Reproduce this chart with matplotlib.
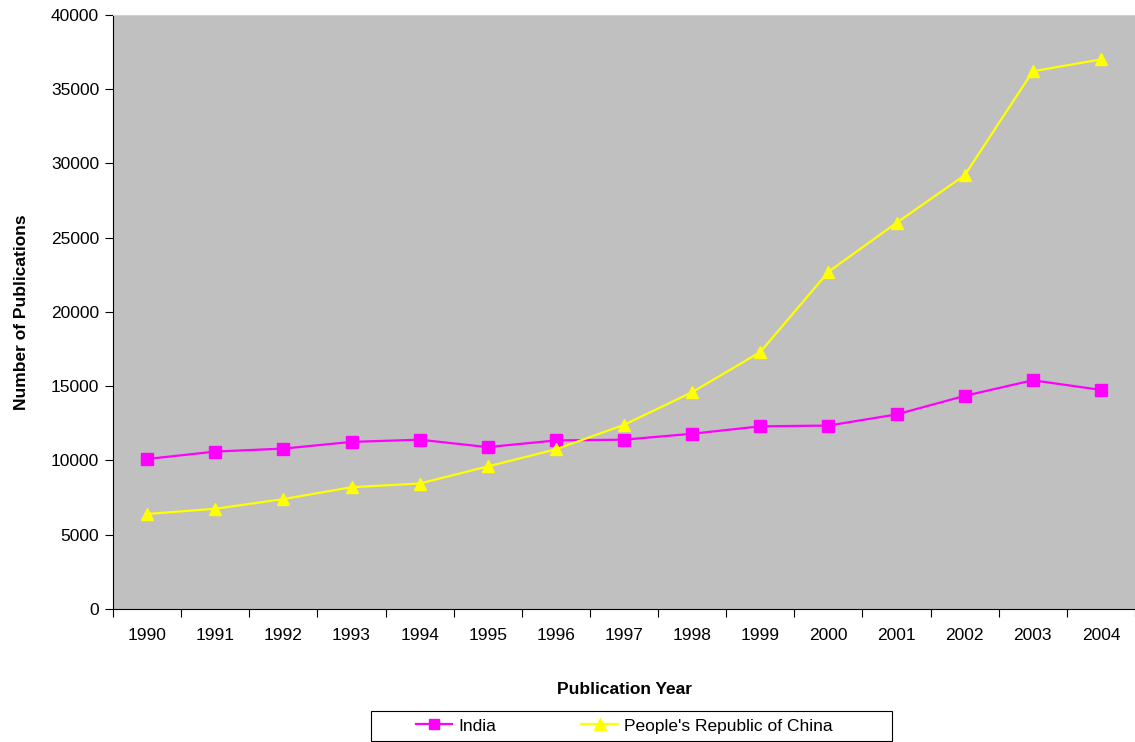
import numpy as np
import matplotlib
matplotlib.use("Agg")
import matplotlib.pyplot as plt
from matplotlib.patches import Rectangle
from matplotlib.ticker import FixedLocator

years = ["1990", "1991", "1992", "1993", "1994", "1995", "1996", "1997",
         "1998", "1999", "2000", "2001", "2002", "2003", "2004"]
india = [10100, 10600, 10800, 11250, 11400, 10900, 11350, 11400,
         11800, 12300, 12350, 13100, 14350, 15400, 14750]
china = [6400, 6750, 7400, 8200, 8450, 9600, 10750, 12400,
         14600, 17300, 22700, 26000, 29200, 36200, 37000]

plt.rcParams["font.family"] = ["Liberation Sans", "DejaVu Sans"]
FS = 12.5

fig = plt.figure(figsize=(11.35, 7.42), dpi=100)
ax = fig.add_axes([0.0996, 0.1792, 0.9004, 0.8008])
ax.set_facecolor("#c0c0c0")

x = np.arange(len(years))
ax.plot(x, india, color="#ff00ff", marker="s", markersize=8, linewidth=1.6,
        label="India")
ax.plot(x, china, color="#ffff00", marker="^", markersize=9, linewidth=1.6,
        label="People's Republic of China")

ax.set_xlim(-0.5, len(years) - 0.5)
ax.set_ylim(0, 40000)
ax.set_yticks(np.arange(0, 40001, 5000))
ax.set_xticks(x)
ax.set_xticklabels(years)
ax.xaxis.set_minor_locator(FixedLocator(np.arange(-0.5, len(years), 1.0)))
ax.tick_params(axis="x", which="major", length=0, pad=14, labelsize=FS)
ax.tick_params(axis="x", which="minor", length=6, color="black", width=0.8)
ax.tick_params(axis="y", length=6, width=0.8, labelsize=FS, pad=4)

for side in ["left", "bottom"]:
    ax.spines[side].set_color("black")
    ax.spines[side].set_linewidth(0.8)
ax.spines["top"].set_color("#d0d0d0")
ax.spines["right"].set_visible(False)

ax.set_xlabel("Publication Year", fontweight="bold", fontsize=FS, labelpad=28)
ax.set_ylabel("Number of Publications", fontweight="bold", fontsize=FS, labelpad=16)

# legend box drawn separately so it can be wider than its contents
fig.patches.append(Rectangle((0.3269, 0.0015), 0.459, 0.0404,
                             transform=fig.transFigure, facecolor="white",
                             edgecolor="black", linewidth=0.8, zorder=0))
fig.legend(loc="center left", bbox_to_anchor=(0.3665, 0.0216), ncol=2,
           fontsize=FS, frameon=False, borderpad=0, borderaxespad=0,
           handlelength=2.1, columnspacing=4.9, handletextpad=0.35,
           markerscale=0.9)

fig.savefig("out.png", dpi=100)
